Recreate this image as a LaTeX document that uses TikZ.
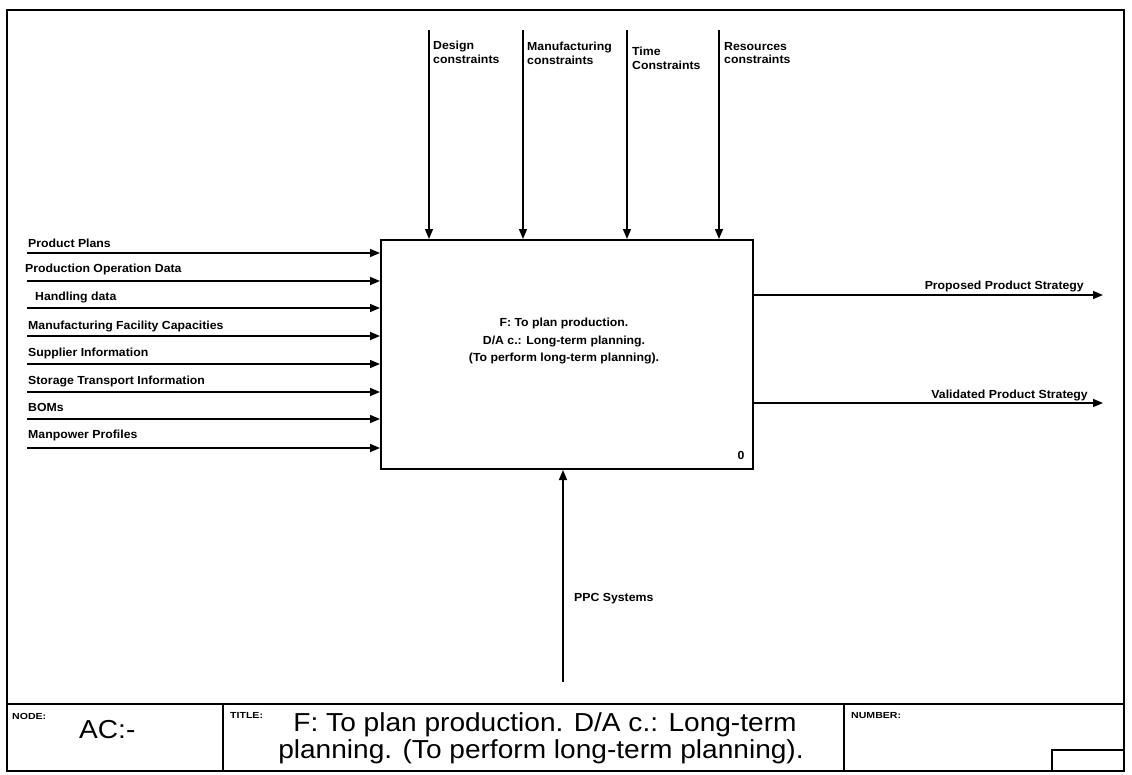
\documentclass[tikz,border=0pt]{standalone}
\usepackage{fontspec}
\setmainfont{Liberation Sans}
\newfontfamily\labfont[FakeStretch=1.05]{Liberation Sans}
\newfontfamily\titlefont[FakeStretch=1.08]{Liberation Sans}
\newfontfamily\tagfont[FakeStretch=1.2]{Liberation Sans}
\usetikzlibrary{arrows.meta}
\begin{document}
\begin{tikzpicture}[x=1pt,y=-1pt,
  flow/.style={line width=1.5pt,-{Triangle[length=10pt,width=8pt]}},
  frameline/.style={line width=1.8pt},
  lab/.style={inner sep=0pt,anchor=base west,font=\labfont\bfseries\fontsize{11.7}{13.6}\selectfont},
  labr/.style={lab,anchor=base east},
  ctl/.style={lab,align=left,anchor=north west},
  tag/.style={inner sep=0pt,anchor=base west,font=\tagfont\bfseries\fontsize{8.8}{10}\selectfont},
  big/.style={inner sep=0pt,font=\titlefont\fontsize{26}{27}\selectfont}]
\useasboundingbox (0,0) rectangle (1132,774);

% sheet frame and footer
\draw[frameline] (7,10) rectangle (1124,771);
\draw[frameline] (7,704) -- (1124,704);
\draw[frameline] (223,704) -- (223,771);
\draw[frameline] (844,704) -- (844,771);
\draw[frameline] (1052,771) |- (1124,750);

\node[tag] (nodetag) at (12,719) {NODE:};
\node[big,anchor=base west] (nodeid) at (79,738) {AC:-};
\node[tag] (titletag) at (230,718) {TITLE:};
\node[big,anchor=base] (title1) at (545,731) {F: To plan production. D/A c.: Long-term};
\node[big,anchor=base] (title2) at (541,758) {planning. (To perform long-term planning).};
\node[tag] (numtag) at (851,718) {NUMBER:};

% function box
\node[draw,line width=2pt,anchor=north west,minimum width=372pt,minimum height=229pt,inner sep=0pt] (fn) at (380,239) {};
\node[lab,anchor=center,align=center,font=\labfont\bfseries\fontsize{11.7}{17.5}\selectfont] (fntext) at (564,341)
  {F: To plan production.\\D/A c.: Long-term planning.\\(To perform long-term planning).};
\node[lab,anchor=base] (fnnum) at (741,459) {0};

% inputs
\coordinate (in1) at (27,253);
\coordinate (in2) at (27,281);
\coordinate (in3) at (27,308);
\coordinate (in4) at (27,336);
\coordinate (in5) at (27,364);
\coordinate (in6) at (27,392);
\coordinate (in7) at (27,419);
\coordinate (in8) at (27,448);
\foreach \i in {1,...,8} \draw[flow] (in\i) -- (fn.west |- in\i);
\node[lab] (lin1) at (28,247) {Product Plans};
\node[lab] (lin2) at (25,272) {Production Operation Data};
\node[lab] (lin3) at (35,300) {Handling data};
\node[lab] (lin4) at (28,329) {Manufacturing Facility Capacities};
\node[lab] (lin5) at (28,356) {Supplier Information};
\node[lab] (lin6) at (28,384) {Storage Transport Information};
\node[lab] (lin7) at (28,411) {BOMs};
\node[lab] (lin8) at (28,438) {Manpower Profiles};

% controls
\coordinate (c1) at (429,30);
\coordinate (c2) at (523,30);
\coordinate (c3) at (627,30);
\coordinate (c4) at (719,30);
\foreach \i in {1,...,4} \draw[flow] (c\i) -- (c\i |- fn.north);
\node[ctl] (lc1) at (433,41) {Design\\constraints};
\node[ctl] (lc2) at (527,42) {Manufacturing\\constraints};
\node[ctl] (lc3) at (632,47) {Time\\Constraints};
\node[ctl] (lc4) at (724,42) {Resources\\constraints};

% outputs
\coordinate (o1) at (1103,295);
\coordinate (o2) at (1103,403);
\draw[flow] (fn.east |- o1) -- (o1);
\draw[flow] (fn.east |- o2) -- (o2);
\node[labr] (lo1) at (1084,289) {Proposed Product Strategy};
\node[labr] (lo2) at (1088,398) {Validated Product Strategy};

% mechanism
\coordinate (m1) at (563,682);
\draw[flow] (m1) -- (m1 |- fn.south);
\node[lab] (lm1) at (574,601) {PPC Systems};
\end{tikzpicture}
\end{document}
